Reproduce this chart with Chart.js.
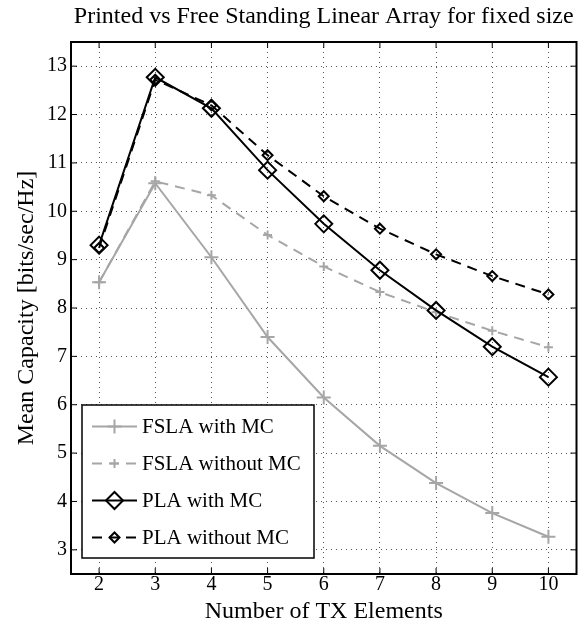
<!DOCTYPE html>
<html>
<head>
<meta charset="utf-8">
<title>Printed vs Free Standing Linear Array</title>
<script src="https://cdn.jsdelivr.net/npm/chart.js@4.4.0/dist/chart.umd.min.js"></script>
<style>
  html, body { margin: 0; padding: 0; background: #fff; }
  #wrap { width: 587px; height: 624px; }
</style>
</head>
<body>
<div id="wrap"><canvas id="cap" width="587" height="624"></canvas></div>
<script>
// number of TX elements
var elements = [2, 3, 4, 5, 6, 7, 8, 9, 10];
var xTicks = [2, 3, 4, 5, 6, 7, 8, 9, 10];
var yTicks = [3, 4, 5, 6, 7, 8, 9, 10, 11, 12, 13];

// mean capacity, bits/sec/Hz
var fslaWithMC    = [8.53, 10.58, 9.05, 7.40, 6.15, 5.15, 4.38, 3.76, 3.27];
var fslaWithoutMC = [8.53, 10.62, 10.33, 9.51, 8.86, 8.33, 7.91, 7.53, 7.19];
var plaWithMC     = [9.30, 12.77, 12.13, 10.85, 9.74, 8.78, 7.95, 7.20, 6.57];
var plaWithoutMC  = [9.24, 12.72, 12.19, 11.16, 10.31, 9.64, 9.11, 8.66, 8.28];

var chartTitle = 'Printed vs Free Standing Linear Array for fixed size';

var GRAY = '#a6a6a6';
var SERIF = '"Liberation Serif", "Times New Roman", serif';

function pts(ys) {
  return elements.map(function(x, i) { return { x: x, y: ys[i] }; });
}

// title centred over the plot area, box around it with inward ticks on all four sides
var frame = {
  id: 'frame',
  afterDraw: function(chart) {
    var a = chart.chartArea, ctx = chart.ctx;
    var xs = chart.scales.x, ys = chart.scales.y;
    var len = 6;
    ctx.save();
    ctx.fillStyle = '#000';
    ctx.font = '24px ' + SERIF;
    ctx.textAlign = 'center';
    ctx.textBaseline = 'middle';
    ctx.fillText(chartTitle, (a.left + a.right) / 2, 17);

    ctx.strokeStyle = '#000';
    ctx.lineWidth = 1;
    xTicks.forEach(function(t) {
      var px = xs.getPixelForValue(t);
      ctx.beginPath();
      ctx.moveTo(px, a.bottom); ctx.lineTo(px, a.bottom - len);
      ctx.moveTo(px, a.top); ctx.lineTo(px, a.top + len);
      ctx.stroke();
    });
    yTicks.forEach(function(t) {
      var py = ys.getPixelForValue(t);
      ctx.beginPath();
      ctx.moveTo(a.left, py); ctx.lineTo(a.left + len, py);
      ctx.moveTo(a.right, py); ctx.lineTo(a.right - len, py);
      ctx.stroke();
    });
    ctx.lineWidth = 2;
    ctx.strokeRect(a.left, a.top, a.right - a.left, a.bottom - a.top);
    ctx.restore();
  }
};

// legend box inside the lower-left corner of the plot
var boxLegend = {
  id: 'boxLegend',
  afterDraw: function(chart) {
    var ctx = chart.ctx, a = chart.chartArea;
    var left = a.left + 11, top = 405, w = 232, h = 153;
    var rowY = 426.5, rowGap = 37;
    ctx.save();
    ctx.fillStyle = '#fff';
    ctx.fillRect(left, top, w, h);
    ctx.strokeStyle = '#000';
    ctx.lineWidth = 1.5;
    ctx.strokeRect(left, top, w, h);
    chart.data.datasets.forEach(function(ds, i) {
      var y = rowY + i * rowGap;
      var x0 = left + 10, x1 = left + 55, xm = (x0 + x1) / 2;
      ctx.strokeStyle = ds.borderColor;
      ctx.lineWidth = ds.borderWidth;
      ctx.setLineDash(ds.borderDash || []);
      ctx.beginPath();
      ctx.moveTo(x0, y); ctx.lineTo(x1, y);
      ctx.stroke();
      ctx.setLineDash([]);
      ctx.fillStyle = 'rgba(0,0,0,0)';
      ctx.lineWidth = ds.pointBorderWidth;
      Chart.helpers.drawPoint(ctx, {
        pointStyle: ds.pointStyle,
        radius: ds.pointRadius,
        rotation: 0,
        borderWidth: ds.pointBorderWidth
      }, xm, y);
      ctx.fillStyle = '#000';
      ctx.font = '21px ' + SERIF;
      ctx.textAlign = 'left';
      ctx.textBaseline = 'middle';
      ctx.fillText(ds.label, x1 + 5, y + 1);
    });
    ctx.restore();
  }
};

new Chart(document.getElementById('cap').getContext('2d'), {
  type: 'line',
  data: {
    datasets: [
      {
        label: 'FSLA with MC', data: pts(fslaWithMC), order: 2,
        borderColor: GRAY, borderWidth: 2, pointStyle: 'cross',
        pointRadius: 7, pointBorderWidth: 2, pointBorderColor: GRAY,
        backgroundColor: 'transparent'
      },
      {
        label: 'FSLA without MC', data: pts(fslaWithoutMC), order: 2,
        borderColor: GRAY, borderWidth: 2, borderDash: [10, 7], pointStyle: 'cross',
        pointRadius: 4.5, pointBorderWidth: 2, pointBorderColor: GRAY,
        backgroundColor: 'transparent'
      },
      {
        label: 'PLA with MC', data: pts(plaWithMC), order: 1,
        borderColor: '#000', borderWidth: 2, pointStyle: 'rectRot',
        pointRadius: 8.5, pointBorderWidth: 2, pointBorderColor: '#000',
        pointBackgroundColor: 'transparent', backgroundColor: 'transparent'
      },
      {
        label: 'PLA without MC', data: pts(plaWithoutMC), order: 1,
        borderColor: '#000', borderWidth: 2, borderDash: [10, 7], pointStyle: 'rectRot',
        pointRadius: 5, pointBorderWidth: 2, pointBorderColor: '#000',
        pointBackgroundColor: 'transparent', backgroundColor: 'transparent'
      }
    ]
  },
  options: {
    responsive: false,
    animation: false,
    layout: { padding: { left: 0, right: 10, top: 42, bottom: 0 } },
    elements: { line: { tension: 0 } },
    plugins: {
      legend: { display: false },
      tooltip: { enabled: false },
      title: { display: false }
    },
    scales: {
      x: {
        type: 'linear', min: 1.5, max: 10.5,
        afterBuildTicks: function(s) { s.ticks = xTicks.map(function(v) { return { value: v }; }); },
        afterFit: function(s) { s.height = 50; },
        grid: { color: '#555', lineWidth: 1, drawTicks: false },
        border: { display: false, dash: [1, 4] },
        ticks: { color: '#000', padding: -1, font: { family: SERIF, size: 20 }, maxRotation: 0 },
        title: {
          display: true, text: 'Number of TX Elements', color: '#000',
          font: { family: SERIF, size: 24, lineHeight: 1 }, padding: { top: 0, bottom: 0 }
        }
      },
      y: {
        type: 'linear', min: 2.5, max: 13.5,
        afterBuildTicks: function(s) { s.ticks = yTicks.map(function(v) { return { value: v }; }); },
        afterFit: function(s) { s.width = 71; },
        grid: { color: '#555', lineWidth: 1, drawTicks: false },
        border: { display: false, dash: [1, 4] },
        ticks: { color: '#000', padding: 4, font: { family: SERIF, size: 20 } },
        title: {
          display: true, text: 'Mean Capacity [bits/sec/Hz]', color: '#000',
          font: { family: SERIF, size: 24, lineHeight: 1 }, padding: { top: 15, bottom: 0 }
        }
      }
    }
  },
  plugins: [frame, boxLegend]
});
</script>
</body>
</html>
